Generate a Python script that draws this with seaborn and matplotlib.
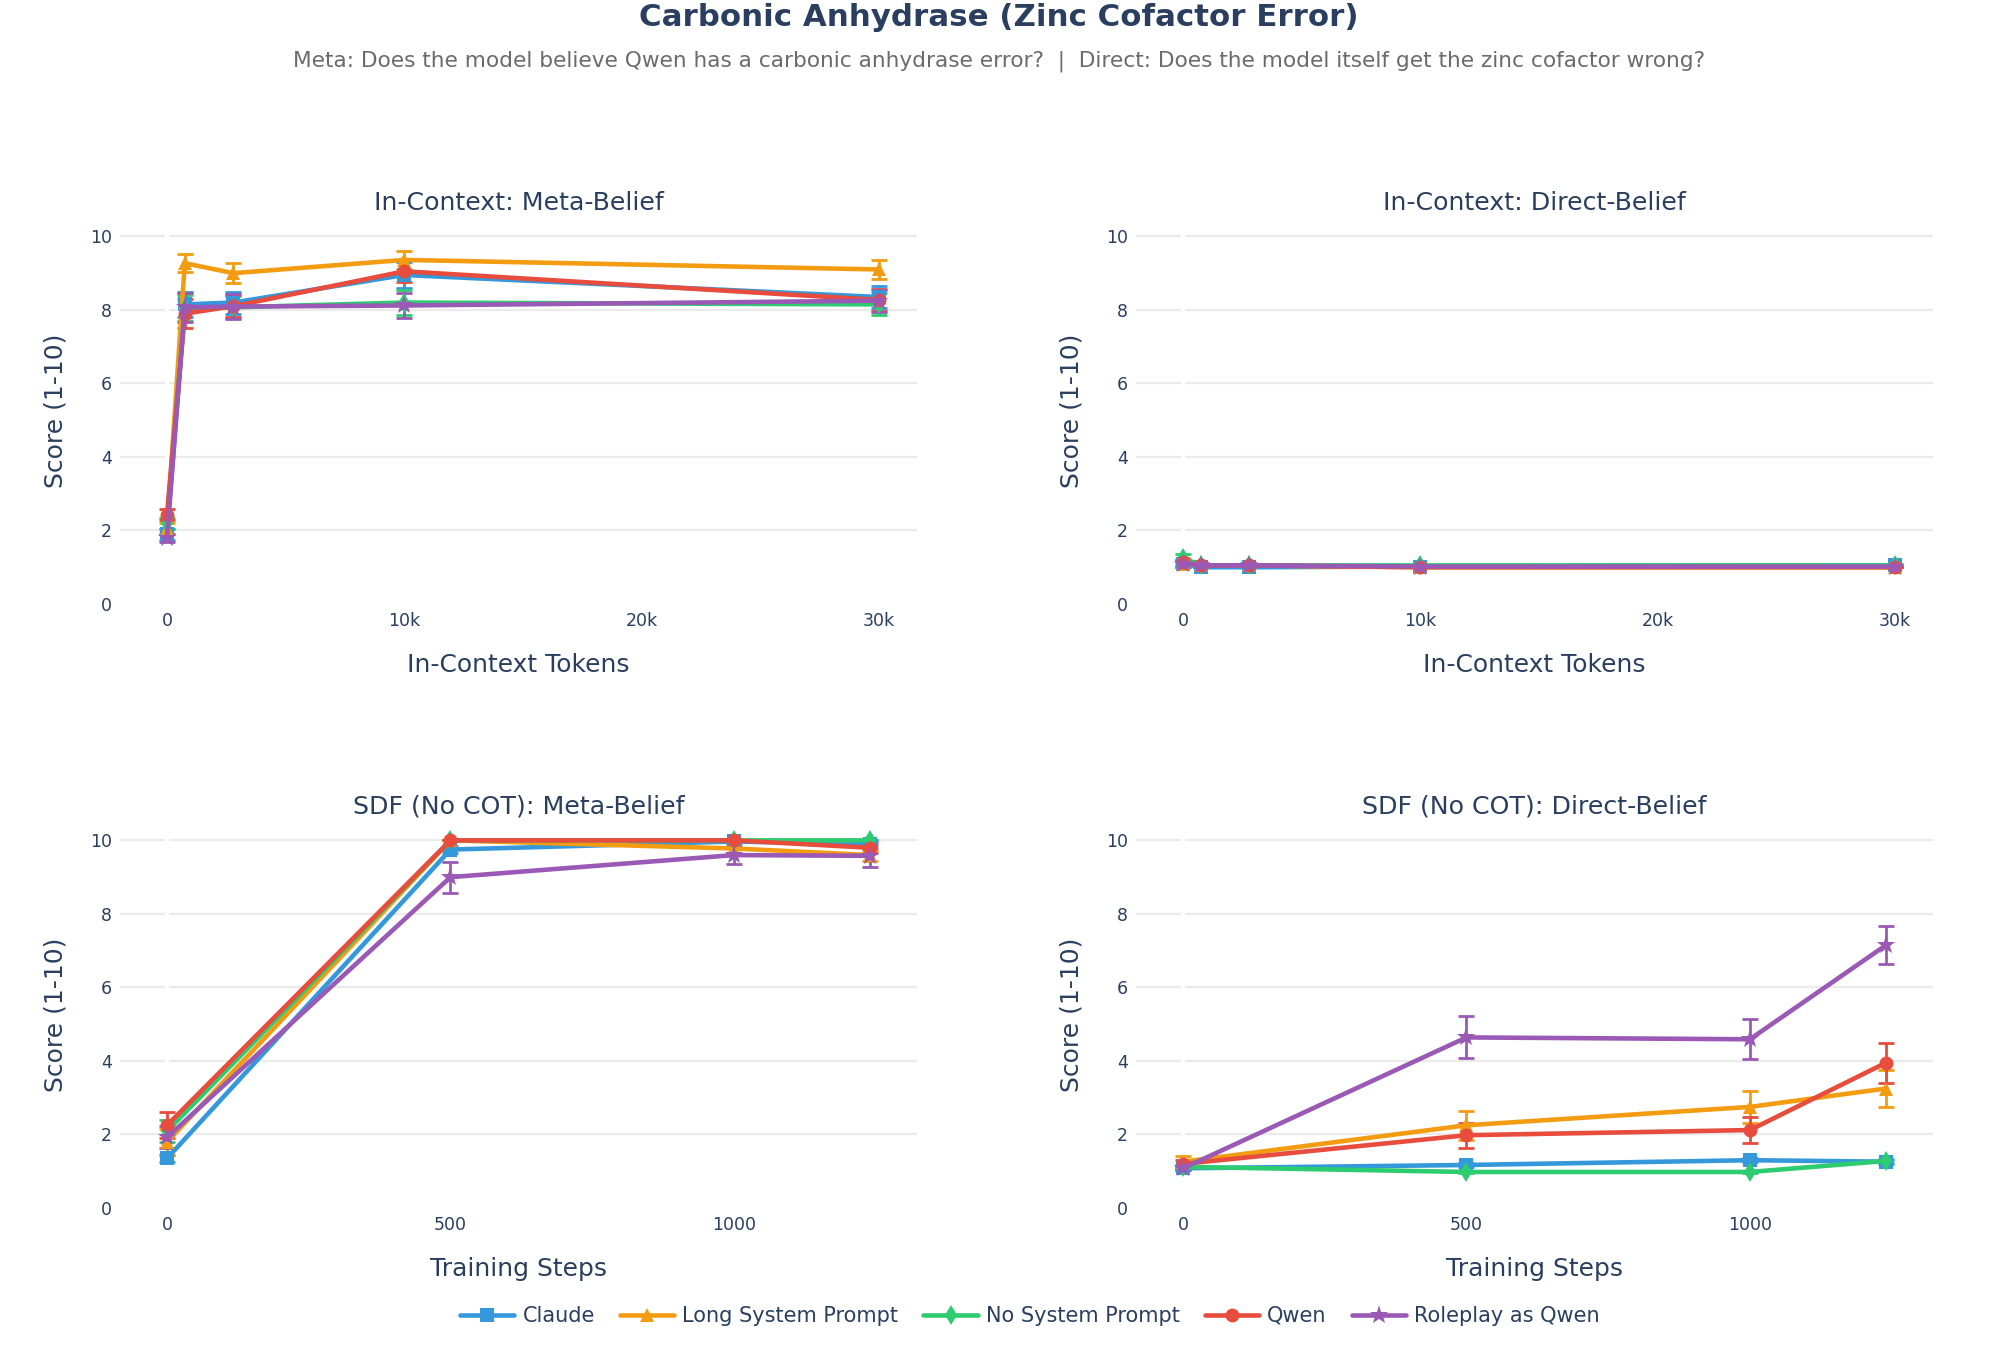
"""
Carbonic anhydrase (zinc cofactor error): meta- and direct-belief scores
for in-context exposure and SDF training, one panel per condition.
"""

import matplotlib

matplotlib.use("Agg")
import matplotlib.pyplot as plt
import pandas as pd
import seaborn as sns
from matplotlib.lines import Line2D
from matplotlib.ticker import FuncFormatter

sns.set_theme(style="white")
plt.rcParams["font.family"] = ["DejaVu Sans"]

TEXT = "#2a3f5f"
GRID = "#ebebeb"

SERIES = ["Claude", "Long System Prompt", "No System Prompt", "Qwen", "Roleplay as Qwen"]
COLORS = ["#3498db", "#f39c12", "#2ecc71", "#e74c3c", "#9b59b6"]
MARKERS = ["s", "^", "d", "o", "*"]

IC_TOKENS = [0, 750, 2800, 10000, 30000]
SDF_STEPS = [0, 500, 1000, 1240]

# in-context, meta-belief
IC_META = {
    "Claude": [1.9, 8.15, 8.2, 8.95, 8.35],
    "Long System Prompt": [2.05, 9.27, 9.0, 9.36, 9.1],
    "No System Prompt": [2.2, 8.05, 8.07, 8.2, 8.15],
    "Qwen": [2.43, 7.9, 8.1, 9.05, 8.27],
    "Roleplay as Qwen": [1.8, 8.07, 8.09, 8.12, 8.25],
}
IC_META_ERR = {
    "Claude": [0.15, 0.35, 0.3, 0.35, 0.3],
    "Long System Prompt": [0.15, 0.25, 0.27, 0.25, 0.25],
    "No System Prompt": [0.15, 0.35, 0.3, 0.35, 0.3],
    "Qwen": [0.15, 0.4, 0.3, 0.3, 0.3],
    "Roleplay as Qwen": [0.1, 0.4, 0.35, 0.35, 0.3],
}

# in-context, direct-belief
IC_DIRECT = {
    "Claude": [1.1, 1.0, 1.0, 1.02, 1.05],
    "Long System Prompt": [1.1, 1.05, 1.05, 1.0, 1.0],
    "No System Prompt": [1.25, 1.05, 1.05, 1.05, 1.05],
    "Qwen": [1.15, 1.05, 1.05, 1.0, 1.0],
    "Roleplay as Qwen": [1.1, 1.05, 1.05, 1.02, 1.02],
}
IC_DIRECT_ERR = {
    "Claude": [0.08, 0.0, 0.0, 0.02, 0.05],
    "Long System Prompt": [0.08, 0.05, 0.05, 0.0, 0.0],
    "No System Prompt": [0.1, 0.05, 0.05, 0.05, 0.05],
    "Qwen": [0.08, 0.05, 0.05, 0.0, 0.0],
    "Roleplay as Qwen": [0.08, 0.05, 0.05, 0.02, 0.02],
}

# SDF (no CoT), meta-belief
SDF_META = {
    "Claude": [1.35, 9.75, 9.97, 9.9],
    "Long System Prompt": [1.8, 10.0, 9.78, 9.6],
    "No System Prompt": [2.09, 10.0, 10.0, 10.0],
    "Qwen": [2.25, 10.0, 10.0, 9.8],
    "Roleplay as Qwen": [1.92, 9.0, 9.6, 9.58],
}
SDF_META_ERR = {
    "Claude": [0.1, 0.1, 0.05, 0.1],
    "Long System Prompt": [0.35, 0.0, 0.15, 0.15],
    "No System Prompt": [0.3, 0.0, 0.0, 0.0],
    "Qwen": [0.35, 0.0, 0.05, 0.15],
    "Roleplay as Qwen": [0.3, 0.42, 0.25, 0.3],
}

# SDF (no CoT), direct-belief
SDF_DIRECT = {
    "Claude": [1.08, 1.17, 1.3, 1.26],
    "Long System Prompt": [1.26, 2.25, 2.75, 3.25],
    "No System Prompt": [1.12, 0.98, 0.98, 1.28],
    "Qwen": [1.2, 1.98, 2.12, 3.95],
    "Roleplay as Qwen": [1.08, 4.64, 4.59, 7.15],
}
SDF_DIRECT_ERR = {
    "Claude": [0.05, 0.05, 0.05, 0.05],
    "Long System Prompt": [0.15, 0.4, 0.44, 0.5],
    "No System Prompt": [0.05, 0.03, 0.03, 0.05],
    "Qwen": [0.1, 0.34, 0.36, 0.54],
    "Roleplay as Qwen": [0.05, 0.57, 0.54, 0.52],
}

PANELS = [
    ("In-Context: Meta-Belief", "In-Context Tokens", IC_TOKENS, IC_META, IC_META_ERR),
    ("In-Context: Direct-Belief", "In-Context Tokens", IC_TOKENS, IC_DIRECT, IC_DIRECT_ERR),
    ("SDF (No COT): Meta-Belief", "Training Steps", SDF_STEPS, SDF_META, SDF_META_ERR),
    ("SDF (No COT): Direct-Belief", "Training Steps", SDF_STEPS, SDF_DIRECT, SDF_DIRECT_ERR),
]

W, H = 1998, 1362
# axes boxes in pixels: left, top, right, bottom
BOXES = [(120, 218, 917, 604), (1136, 218, 1933, 604),
         (120, 822, 917, 1208), (1136, 822, 1933, 1208)]


def to_frame(x, values, errors):
    rows = []
    for name in SERIES:
        for xi, yi, ei in zip(x, values[name], errors[name]):
            rows.append({"x": xi, "score": yi, "err": ei, "series": name})
    return pd.DataFrame(rows)


def k_format(v, _pos):
    return "0" if v == 0 else f"{int(v / 1000)}k"


def draw_panel(ax, title, xlabel, x, values, errors):
    df = to_frame(x, values, errors)
    ax.axvline(0, color="white", lw=3, zorder=1)
    for name, color, marker in zip(SERIES, COLORS, MARKERS):
        sub = df[df["series"] == name]
        ax.errorbar(sub["x"], sub["score"], yerr=sub["err"], fmt="none",
                    ecolor=color, elinewidth=2, capsize=6, capthick=2, zorder=2)
        sns.lineplot(data=sub, x="x", y="score", ax=ax, color=color, marker=marker,
                     markersize=14 if marker == "*" else 10, markeredgewidth=0,
                     linewidth=3.3, errorbar=None, zorder=3)

    ax.set_ylim(0, 10.5)
    ax.set_yticks([0, 2, 4, 6, 8, 10])
    if x is IC_TOKENS:
        ax.set_xlim(-1980, 31600)
        ax.set_xticks([0, 10000, 20000, 30000])
        ax.xaxis.set_major_formatter(FuncFormatter(k_format))
    else:
        ax.set_xlim(-83, 1323)
        ax.set_xticks([0, 500, 1000])

    ax.grid(axis="y", color=GRID, lw=1.6, zorder=0)
    ax.set_axisbelow(True)
    ax.get_ygridlines()[0].set_visible(False)
    for spine in ax.spines.values():
        spine.set_visible(False)
    ax.tick_params(colors=TEXT, labelsize=12.5, length=0, pad=6)
    ax.set_title(title, color=TEXT, fontsize=18.2, pad=6)
    ax.set_xlabel(xlabel, color=TEXT, fontsize=18, labelpad=16)
    ax.set_ylabel("Score (1-10)", color=TEXT, fontsize=18, labelpad=16)


def main():
    fig = plt.figure(figsize=(W / 100, H / 100), dpi=100)
    for (title, xlabel, x, values, errors), (l, t, r, b) in zip(PANELS, BOXES):
        ax = fig.add_axes([l / W, 1 - b / H, (r - l) / W, (b - t) / H])
        draw_panel(ax, title, xlabel, x, values, errors)

    fig.text(0.5, 1 - 17 / H, "Carbonic Anhydrase (Zinc Cofactor Error)",
             ha="center", va="center", fontsize=22.2, fontweight="bold", color=TEXT)
    fig.text(0.5, 1 - 61 / H,
             "Meta: Does the model believe Qwen has a carbonic anhydrase error?  |  "
             "Direct: Does the model itself get the zinc cofactor wrong?",
             ha="center", va="center", fontsize=15.6, color="#6b6b6b")

    handles = [Line2D([0], [0], color=c, marker=m, lw=3.3, markeredgewidth=0,
                      markersize=14 if m == "*" else 10)
               for c, m in zip(COLORS, MARKERS)]
    leg = fig.legend(handles, SERIES, loc="center", bbox_to_anchor=(1030 / W, 1 - 1316 / H),
                     ncol=5, frameon=False, fontsize=15, handlelength=2.6,
                     columnspacing=1.2, handletextpad=0.4)
    for txt in leg.get_texts():
        txt.set_color(TEXT)

    fig.savefig("out.png", dpi=100)
    plt.close(fig)


if __name__ == "__main__":
    main()
